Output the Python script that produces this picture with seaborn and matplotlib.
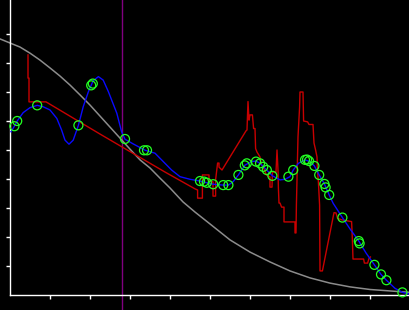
import matplotlib
matplotlib.use("Agg")
import matplotlib.pyplot as plt
import seaborn as sns
import pandas as pd

# ---------------- data ----------------
gray_x = [-0.25, 0.0, 0.25, 0.5, 0.75, 1.0, 1.25, 1.5, 1.75, 2.0, 2.25, 2.5, 2.75,
          3.0, 3.25, 3.5, 3.75, 4.0, 4.325, 4.625, 5.0, 5.5, 6.0, 6.5, 7.0, 7.5,
          8.0, 8.5, 9.0, 9.5, 10.0]
gray_y = [8.83, 8.69, 8.55, 8.34, 8.10, 7.83, 7.55, 7.24, 6.90, 6.55, 6.17, 5.79, 5.41,
          5.03, 4.66, 4.38, 4.03, 3.69, 3.21, 2.86, 2.45, 1.90, 1.48, 1.14, 0.83, 0.59,
          0.41, 0.28, 0.19, 0.14, 0.09]

blue_x = [0.025, 0.11, 0.18, 0.33, 0.5, 0.68, 0.83, 1.0, 1.17, 1.29, 1.375, 1.475,
          1.58, 1.71, 1.83, 1.96, 2.08, 2.21, 2.33, 2.46, 2.67, 2.79, 2.875, 3.08,
          3.38, 3.625, 3.875, 4.04, 4.25, 4.5, 4.75, 4.92, 5.08, 5.33, 5.46, 5.58,
          5.71, 5.875, 6.04, 6.15, 6.25, 6.375, 6.56, 6.75, 6.875, 7.0, 7.08, 7.21,
          7.375, 7.5, 7.61, 7.73, 7.86, 7.98, 8.08, 8.31, 8.5, 8.72, 8.9, 9.11,
          9.275, 9.41, 9.625, 9.81, 10.0]
blue_y = [5.63, 5.82, 6.00, 6.29, 6.46, 6.54, 6.49, 6.38, 6.09, 5.69, 5.34, 5.20,
          5.34, 5.85, 6.49, 7.01, 7.39, 7.53, 7.41, 7.01, 6.27, 5.63, 5.37, 5.21,
          4.99, 4.89, 4.54, 4.31, 4.08, 3.99, 3.93, 3.87, 3.82, 3.79, 3.79, 3.91,
          4.14, 4.48, 4.60, 4.62, 4.54, 4.37, 4.11, 3.97, 3.99, 4.08, 4.31, 4.54,
          4.66, 4.60, 4.45, 4.14, 3.83, 3.45, 3.16, 2.67, 2.28, 1.86, 1.45, 1.04,
          0.71, 0.51, 0.23, 0.09, 0.03]

red_x = [0.45, 0.45, 0.475, 0.475, 0.9, 2.25, 3.875, 4.625, 4.69, 4.69, 4.81, 4.81,
         4.975, 4.975, 5.075, 5.075, 5.14, 5.14, 5.19, 5.225, 5.225, 5.3, 5.9, 5.925,
         5.95, 5.975, 6.0, 6.06, 6.09, 6.125, 6.14, 6.175, 6.25, 6.29, 6.34, 6.41,
         6.5, 6.5, 6.55, 6.56, 6.65, 6.675, 6.7, 6.71, 6.725, 6.75, 6.79, 6.85, 6.85,
         7.125, 7.125, 7.15, 7.16, 7.2, 7.24, 7.25, 7.325, 7.34, 7.44, 7.475, 7.575,
         7.6, 7.64, 7.675, 7.69, 7.71, 7.74, 7.75, 7.81, 8.1, 8.15, 8.19, 8.3, 8.54,
         8.56, 8.575, 8.84, 8.86, 8.94, 8.975, 9.01]
red_y = [8.28, 7.48, 7.48, 6.66, 6.66, 5.55, 4.24, 3.66, 3.62, 3.34, 3.34, 4.14,
         4.14, 3.97, 3.90, 3.41, 3.41, 3.97, 4.55, 4.55, 4.41, 4.31, 5.66, 5.69,
         6.67, 6.03, 6.21, 6.21, 5.74, 5.74, 5.05, 4.93, 4.76, 4.48, 4.38, 4.14,
         4.07, 3.72, 3.72, 4.24, 4.24, 5.00, 4.31, 3.69, 3.17, 3.17, 3.03, 3.03, 2.52,
         2.52, 2.14, 2.14, 3.10, 5.45, 6.48, 7.00, 7.00, 6.00, 5.97, 5.88, 5.88,
         5.24, 5.00, 4.76, 4.24, 3.90, 3.10, 0.83, 0.83, 2.84, 2.83, 2.64, 2.59, 2.53,
         1.90, 1.24, 1.24, 1.10, 1.10, 1.26, 1.31]

pts_x = [0.11, 0.18, 0.68, 1.71, 2.03, 2.07, 2.875, 3.35, 3.425, 4.75, 4.85, 4.92,
         5.08, 5.33, 5.46, 5.71, 5.87, 5.92, 6.15, 6.25, 6.33, 6.42, 6.56, 6.96,
         7.08, 7.375, 7.425, 7.475, 7.61, 7.73, 7.86, 7.89, 7.98, 8.31, 8.72, 8.74,
         9.11, 9.275, 9.41, 9.81]
pts_y = [5.82, 6.00, 6.54, 5.85, 7.23, 7.29, 5.38, 4.99, 4.99, 3.93, 3.91, 3.87,
         3.82, 3.79, 3.79, 4.14, 4.47, 4.54, 4.60, 4.54, 4.42, 4.31, 4.11, 4.08,
         4.31, 4.66, 4.67, 4.62, 4.45, 4.14, 3.83, 3.71, 3.45, 2.67, 1.86, 1.78,
         1.04, 0.71, 0.51, 0.09]

marker_x = [2.81]
x_ticks = [1, 2, 3, 4, 5, 6, 7, 8, 9]
y_ticks = [1, 2, 3, 4, 5, 6, 7, 8, 9]

gray_df = pd.DataFrame({"x": gray_x, "y": gray_y})
blue_df = pd.DataFrame({"x": blue_x, "y": blue_y})
red_df = pd.DataFrame({"x": red_x, "y": red_y})
pts_df = pd.DataFrame({"x": pts_x, "y": pts_y})

# ---------------- figure ----------------
fig = plt.figure(figsize=(4.1, 3.1), dpi=100, facecolor="black")
ax = fig.add_axes([0, 0, 1, 1])
ax.set_facecolor("black")

ax.axvline(marker_x[0], color="#800080", lw=1.0, zorder=1)
sns.lineplot(data=gray_df, x="x", y="y", ax=ax, color="#8c8c8c", lw=1.1,
             sort=False, estimator=None, zorder=2)
sns.lineplot(data=red_df, x="x", y="y", ax=ax, color="#c80000", lw=1.0,
             sort=False, estimator=None, zorder=3)
sns.lineplot(data=blue_df, x="x", y="y", ax=ax, color="#0a0aff", lw=1.0,
             sort=False, estimator=None, zorder=4)
sns.scatterplot(data=pts_df, x="x", y="y", ax=ax, marker="o", s=42,
                facecolor="none", edgecolor="#22ff22", linewidth=0.9, zorder=5)

ax.set_xlim(-0.25, 10.0)
ax.set_ylim(-15 / 29, 295 / 29)
ax.set_xticks(x_ticks)
ax.set_yticks(y_ticks)
ax.set_xlabel("")
ax.set_ylabel("")

for side in ("top", "right"):
    ax.spines[side].set_visible(False)
for side in ("left", "bottom"):
    ax.spines[side].set_position(("data", 0))
    ax.spines[side].set_color("white")
    ax.spines[side].set_linewidth(1.0)
ax.spines["bottom"].set_bounds(0, 10.0)
ax.spines["left"].set_bounds(0, 295 / 29)
ax.tick_params(colors="white", direction="out", length=3, width=1.0,
               labelleft=False, labelbottom=False)
ax.grid(False)

fig.savefig("out.png", dpi=100, facecolor="black")
